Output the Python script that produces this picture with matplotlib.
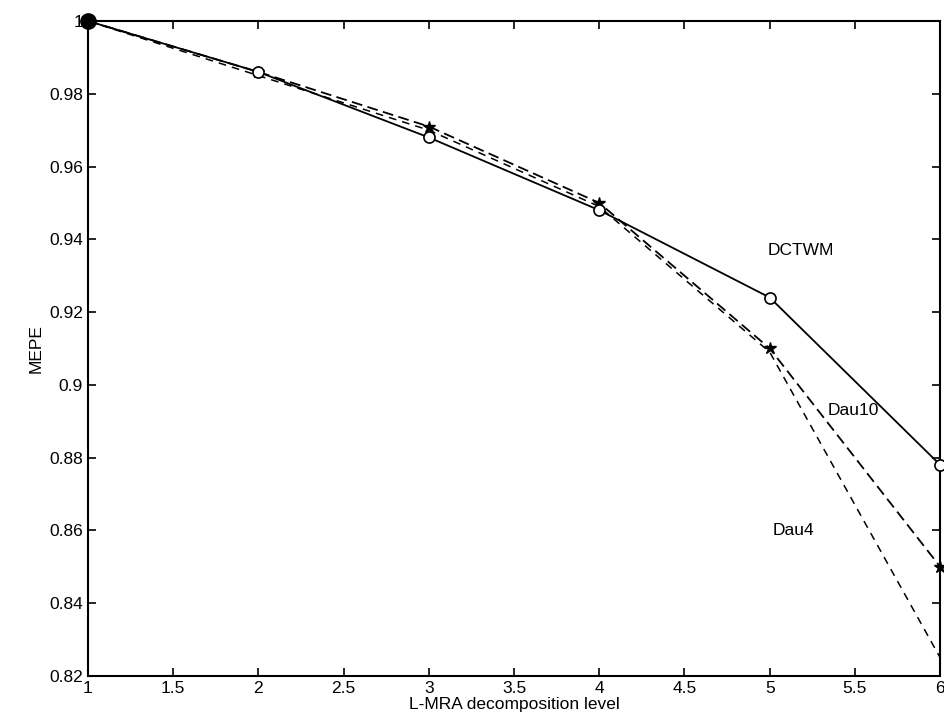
import numpy as np
import matplotlib.pyplot as plt
from matplotlib.ticker import FuncFormatter

plt.rcParams['font.family'] = ['Liberation Sans', 'DejaVu Sans']

# datos
niveles = [1, 2, 3, 4, 5, 6]
dctwm = [1.0, 0.986, 0.968, 0.948, 0.924, 0.878]
dau10 = [1.0, 0.986, 0.971, 0.950, 0.910, 0.850]
dau4 = [1.0, 0.985, 0.970, 0.949, 0.909, 0.825]

fig = plt.figure(figsize=(9.44, 7.23), dpi=100)
ax = fig.add_axes([0.093, 0.065, 0.903, 0.906])

ax.plot(niveles, dctwm, color='black', lw=1.3, marker='o', ms=8,
        mfc='white', mec='black', mew=1.2, clip_on=False, zorder=4)
ax.plot(niveles, dau10, color='black', lw=1.3, ls=(0, (6, 3)), marker='*',
        ms=9, mfc='black', mec='black', clip_on=False)
ax.plot(niveles, dau4, color='black', lw=1.1, ls=(0, (5, 4)))
ax.plot(1, 1.0, 'o', color='black', ms=11, clip_on=False, zorder=5)

ax.text(5.18, 0.937, 'DCTWM', fontsize=12.5, ha='center', va='center')
ax.text(5.49, 0.893, 'Dau10', fontsize=12.5, ha='center', va='center')
ax.text(5.14, 0.860, 'Dau4', fontsize=12.5, ha='center', va='center')

ax.set_xlim(1, 6)
ax.set_ylim(0.82, 1.0)
ax.set_xticks(np.arange(1, 6.01, 0.5))
ax.set_yticks(np.arange(0.82, 1.001, 0.02))
fmt = FuncFormatter(lambda v, p: '%g' % round(v, 2))
ax.xaxis.set_major_formatter(fmt)
ax.yaxis.set_major_formatter(fmt)
ax.tick_params(direction='in', top=True, right=True, length=6, width=1.2,
               labelsize=12.5)
for s in ax.spines.values():
    s.set_linewidth(1.5)

ax.set_xlabel('L-MRA decomposition level', fontsize=12.5, labelpad=1)
ax.set_ylabel('MEPE', fontsize=12.5)

fig.savefig('out.png', dpi=100)
